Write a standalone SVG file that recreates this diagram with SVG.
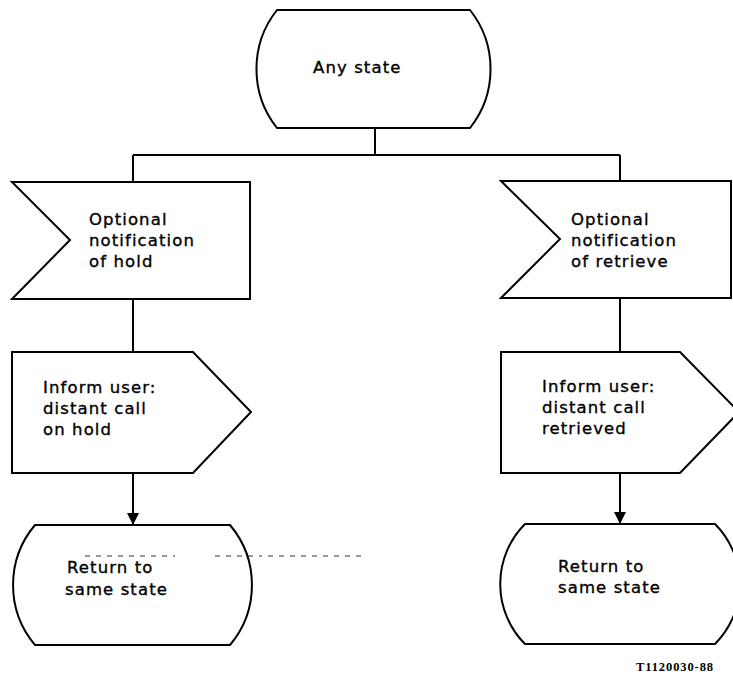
<svg xmlns="http://www.w3.org/2000/svg" width="733" height="674" viewBox="0 0 733 674">
<style>
.shape{fill:#fff;stroke:#000;stroke-width:2;stroke-linejoin:miter}
.conn{fill:none;stroke:#000;stroke-width:2}
.lbl{font-family:"DejaVu Sans","Liberation Sans",sans-serif;font-size:16.5px;letter-spacing:1.1px;fill:#000;stroke:#000;stroke-width:0.35px}
.ref{font-family:"Liberation Serif",serif;font-size:12.5px;font-weight:bold;letter-spacing:0.9px;fill:#000}
</style>
<defs>
<marker id="arr" markerWidth="12" markerHeight="12" refX="12" refY="6" orient="auto" markerUnits="userSpaceOnUse">
<path d="M0,0 L12,6 L0,12 Z" fill="#000"/>
</marker>
</defs>
<g id="connectors">
<path class="conn" d="M375,128 V155 M133,155 H620 M133,155 V182 M620,155 V181"/>
<path class="conn" d="M133,299 V352 M620,298 V352"/>
<path class="conn" d="M133,473 V525" marker-end="url(#arr)"/>
<path class="conn" d="M620,473 V524" marker-end="url(#arr)"/>
</g>
<g id="any-state">
<path class="shape" d="M277,10 H470 A95,95 0 0 1 470,128 H277 A95,95 0 0 1 277,10 Z"/>
<text class="lbl" x="313" y="73">Any state</text>
</g>
<g id="input-hold">
<path class="shape" d="M12,182 H250 V299 H12 L70,240 Z"/>
<text class="lbl" x="89" y="225">Optional</text>
<text class="lbl" x="89" y="246">notification</text>
<text class="lbl" x="89" y="267">of hold</text>
</g>
<g id="input-retrieve">
<path class="shape" d="M501,181 H731 V298 H501 L560,239 Z"/>
<text class="lbl" x="571" y="225">Optional</text>
<text class="lbl" x="571" y="246">notification</text>
<text class="lbl" x="571" y="267">of retrieve</text>
</g>
<g id="output-hold">
<path class="shape" d="M12,352 H193 L251,412 L193,473 H12 Z"/>
<text class="lbl" x="43" y="393">Inform user:</text>
<text class="lbl" x="43" y="414">distant call</text>
<text class="lbl" x="43" y="435">on hold</text>
</g>
<g id="output-retrieve">
<path class="shape" d="M501,352 H680 L739,412 L680,473 H501 Z"/>
<text class="lbl" x="542" y="392">Inform user:</text>
<text class="lbl" x="542" y="413">distant call</text>
<text class="lbl" x="542" y="434">retrieved</text>
</g>
<g id="return-left">
<path class="shape" d="M35,525 H230 A93,93 0 0 1 230,645 H35 A93,93 0 0 1 35,525 Z"/>
<text class="lbl" x="67" y="573">Return to</text>
<text class="lbl" x="65" y="595">same state</text>
</g>
<g id="return-right">
<path class="shape" d="M525,524 H715 A85,85 0 0 1 715,644 H525 A85,85 0 0 1 525,524 Z"/>
<text class="lbl" x="558" y="572">Return to</text>
<text class="lbl" x="558" y="593">same state</text>
</g>
<path d="M85,556 H175 M215,556 H262 M268,556 H365" stroke="#000" stroke-width="1" stroke-dasharray="5,6" opacity="0.8"/>
<text class="ref" x="636" y="671">T1120030-88</text>
</svg>
